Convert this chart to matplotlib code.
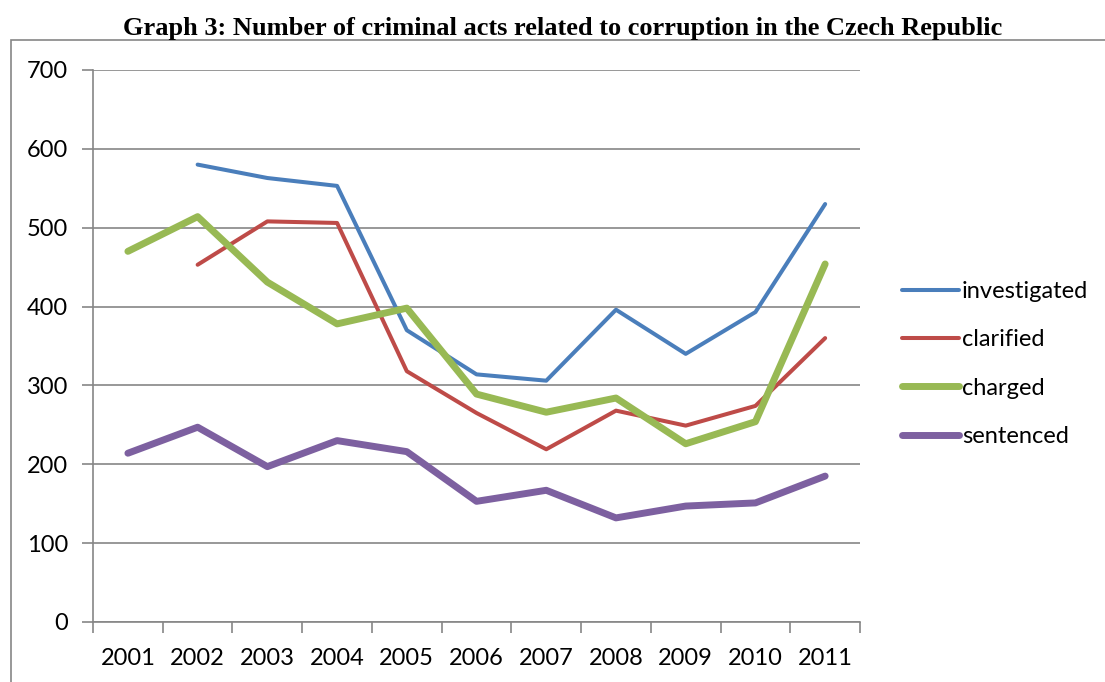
import numpy as np
import matplotlib
matplotlib.use('Agg')
from matplotlib import pyplot as plt
from matplotlib.patches import Rectangle

plt.rcParams['font.family'] = ['Lato', 'DejaVu Sans']

years = ['2001', '2002', '2003', '2004', '2005', '2006', '2007', '2008', '2009', '2010', '2011']
investigated = [np.nan, 580, 563, 553, 370, 314, 306, 396, 340, 393, 530]
clarified = [np.nan, 453, 508, 506, 318, 265, 219, 268, 249, 274, 360]
charged = [470, 514, 431, 378, 398, 289, 266, 284, 226, 254, 454]
sentenced = [214, 247, 197, 230, 216, 153, 167, 132, 147, 151, 185]

series = [('investigated', investigated, '#4A7EBB', 2.9),
          ('clarified', clarified, '#BE4B48', 2.9),
          ('charged', charged, '#98B954', 5.0),
          ('sentenced', sentenced, '#7D60A0', 5.0)]

fig = plt.figure(figsize=(11.05, 6.82), dpi=100)
ax = fig.add_axes([0.0842, 0.088, 0.6941, 0.8094])

# outer chart frame
fig.patches.append(Rectangle((11 / 1105, -0.1), 1.2, 1 - 40 / 682 + 0.1, transform=fig.transFigure,
                             fill=False, edgecolor='#868686', lw=1.2))

x = np.arange(len(years))
for name, vals, c, lw in series:
    ax.plot(x, vals, color=c, lw=lw, label=name, solid_capstyle='round', solid_joinstyle='round')

ax.set_xlim(-0.5, len(years) - 0.5)
ax.set_ylim(0, 700)
ax.set_yticks(np.arange(0, 701, 100))
ax.yaxis.grid(True, color='#868686', lw=1.2)
ax.set_axisbelow(True)

ax.set_xticks(np.arange(-0.5, len(years), 1))
ax.set_xticklabels([])
ax.set_xticks(x, minor=True)
ax.set_xticklabels(years, minor=True)
ax.tick_params(axis='x', which='major', length=8, width=1.2, color='#868686')
ax.tick_params(axis='x', which='minor', length=0, pad=19, labelsize=17)
ax.tick_params(axis='y', length=8, width=1.2, color='#868686', pad=10, labelsize=17)

for s in ['top', 'right']:
    ax.spines[s].set_visible(False)
for s in ['left', 'bottom']:
    ax.spines[s].set_color('#868686')
    ax.spines[s].set_linewidth(1.2)

fig.legend(loc='center left', bbox_to_anchor=(881 / 1105, 1 - 364 / 682), frameon=False,
           fontsize=17, handlelength=2.4, handletextpad=0.12, labelspacing=1.16)

fig.text(563 / 1105, 1 - 29 / 682, 'Graph 3: Number of criminal acts related to corruption in the Czech Republic',
         family='Liberation Serif', weight='bold', fontsize=19, ha='center', va='center')

plt.savefig('out.png', dpi=100)
plt.close()
